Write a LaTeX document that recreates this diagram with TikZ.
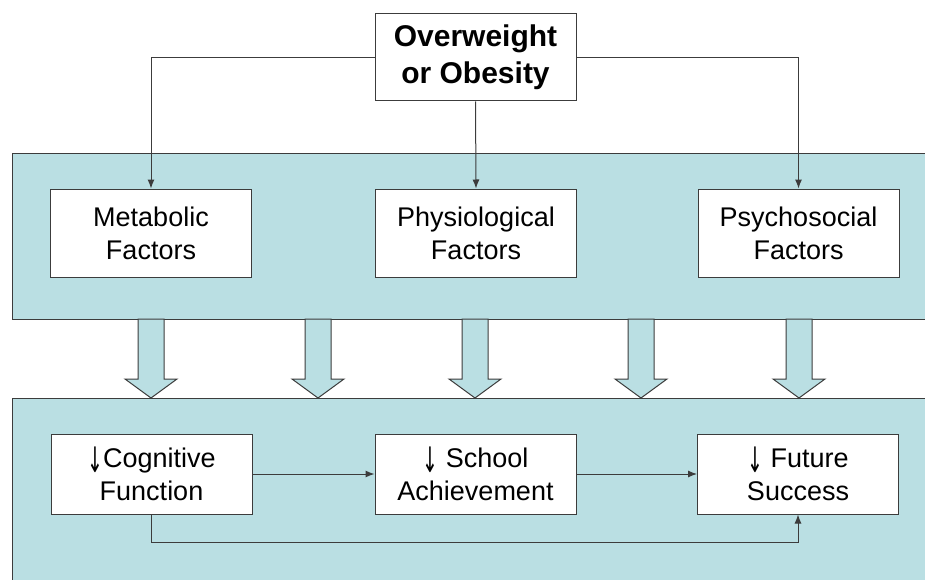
\documentclass[tikz,border=0pt]{standalone}
\usepackage{fontspec}
\setmainfont{Liberation Sans}
\newfontfamily\arrowfont{DejaVu Sans}
\usepackage{graphicx}
\usepackage{xcolor}
\usepackage{tikz}
\usetikzlibrary{arrows.meta}
\definecolor{panelblue}{RGB}{186,223,227}
\definecolor{edgegray}{RGB}{60,60,60}
\newcommand{\lessarrow}{\raisebox{-0.2em}{\scalebox{0.7}[1.3]{\arrowfont ↓}}}
\tikzset{every picture/.style={x=1pt,y=-1pt},
  factor/.style={rectangle, draw=edgegray, fill=white, line width=1pt, minimum width=201pt, minimum height=88pt, align=center, font=\fontsize{27}{33}\selectfont},
  outcome/.style={factor, minimum height=80pt},
  cause/.style={factor, minimum height=87pt, font=\fontsize{30}{37}\selectfont\bfseries},
  link/.style={draw=edgegray, line width=1pt, -{Latex[length=9pt,width=7pt]}},
  panel/.style={draw=edgegray, fill=panelblue, line width=1pt}}

\begin{document}
\begin{tikzpicture}
  \useasboundingbox (0,0) rectangle (925,580);
  \clip (0,0) rectangle (925,580);

  % panels
  \draw[panel] (12,154) rectangle (940,319);
  \draw[panel] (12,398) rectangle (940,600);

  % wide arrows between panels
  \foreach \x in {151,318,475,641,799}
    \draw[panel] (\x-13,319) -- (\x+13,319) -- (\x+13,379) -- (\x+26,379)
      -- (\x,398) -- (\x-26,379) -- (\x-13,379) -- cycle;

  \node[cause] (over) at (475.5,57.5) {Overweight\\or Obesity};

  \node[factor] (meta) at (151,233) {Metabolic\\Factors};
  \node[factor] (physio) at (476,233) {Physiological\\Factors};
  \node[factor] (psycho) at (798.5,233) {Psychosocial\\Factors};

  \node[outcome] (cog) at (151.5,474) {\lessarrow Cognitive\\Function};
  \node[outcome] (school) at (475.5,474) {\lessarrow\ School\\Achievement};
  \node[outcome] (future) at (798,474) {\lessarrow\ Future\\Success};

  \draw[link] (over.west) -| (meta.north);
  \draw[link] (over.south) -- (physio.north);
  \draw[link] (over.east) -| (psycho.north);

  \draw[link] (cog) -- (school);
  \draw[link] (school) -- (future);
  \draw[link] (cog.south) -- ++(0,28) -| (future.south);
\end{tikzpicture}
\end{document}
